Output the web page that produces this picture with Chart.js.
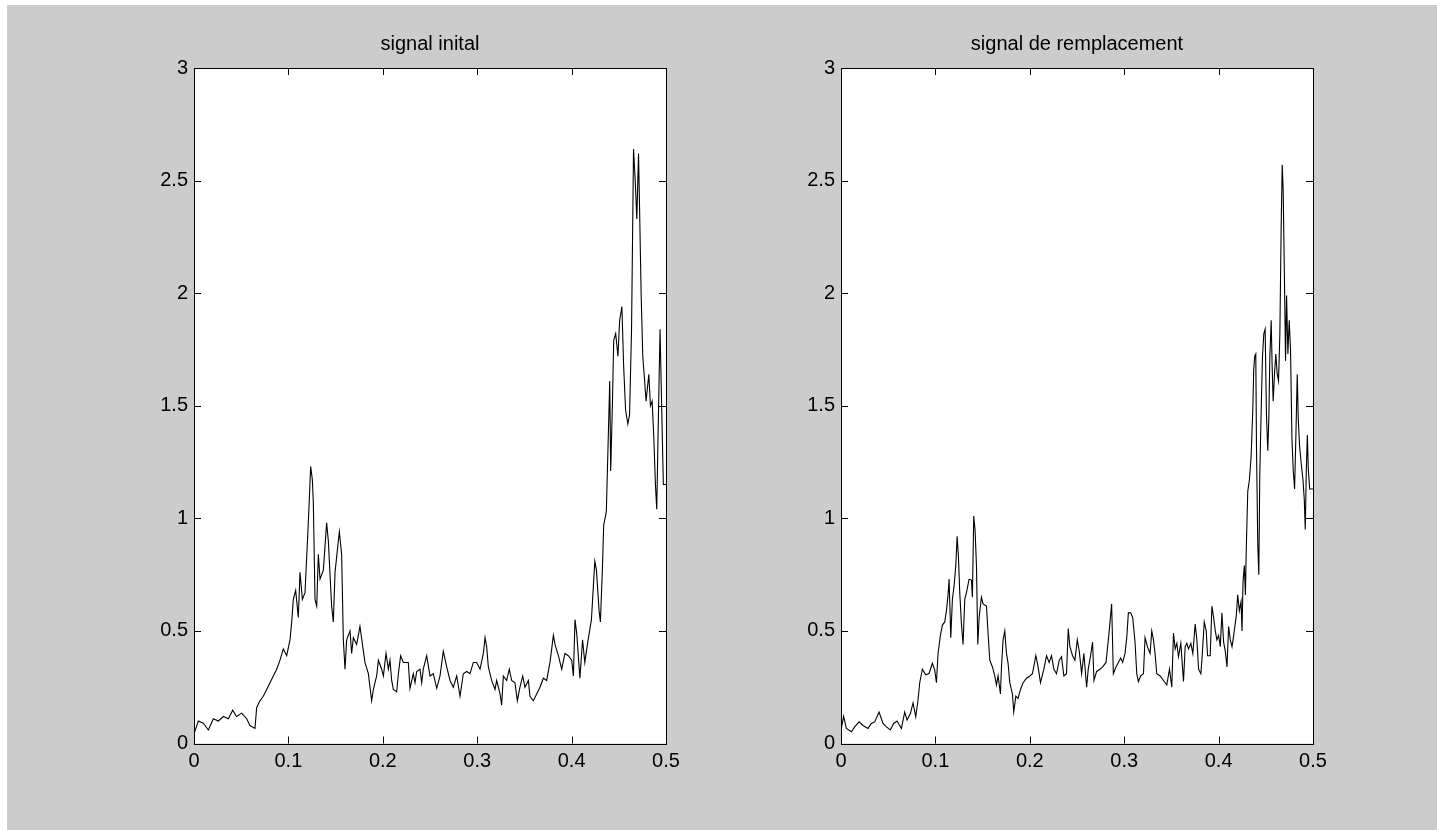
<!DOCTYPE html>
<html lang="fr">
<head>
  <meta charset="UTF-8" />
  <title>signal inital / signal de remplacement</title>
  <script src="https://cdn.jsdelivr.net/npm/chart.js"></script>
  <style>
    body { margin: 0; background: #fff; width: 1437px; height: 830px; overflow: hidden; position: relative; }
    #fond { position: absolute; left: 7px; top: 5px; right: 0; bottom: 0; background: #cccccc; }
    canvas { position: absolute; top: 0; }
    #c1 { left: 100px; }
    #c2 { left: 747px; }
  </style>
</head>
<body>
  <div id="fond"></div>
  <canvas id="c1" width="600" height="830"></canvas>
  <canvas id="c2" width="600" height="830"></canvas>

  <script>
    // --- données ---
    const xTicks = [0, 0.1, 0.2, 0.3, 0.4, 0.5];
    const yTicks = [0, 0.5, 1, 1.5, 2, 2.5, 3];

    // signal inital
    const xInit = [0, 0.0046, 0.0099, 0.0152, 0.0205, 0.0258, 0.0311, 0.0364, 0.041, 0.045, 0.0505, 0.0558, 0.0593, 0.0646,
      0.0664, 0.0699, 0.0734, 0.077, 0.0805, 0.084, 0.0876, 0.0911, 0.0946, 0.0982, 0.1017, 0.1035, 0.1052, 0.1077, 0.1105,
      0.1123, 0.1148, 0.1176, 0.1211, 0.1236, 0.1254, 0.1264, 0.1282, 0.13, 0.1317, 0.1335, 0.137, 0.1405, 0.1423, 0.1458,
      0.1476, 0.1494, 0.1529, 0.154, 0.1564, 0.1582, 0.16, 0.1617, 0.1653, 0.167, 0.1688, 0.1723, 0.1758, 0.1811, 0.1847,
      0.1882, 0.19, 0.1935, 0.1953, 0.1988, 0.2006, 0.2034, 0.2059, 0.2076, 0.2094, 0.2112, 0.2147, 0.2165, 0.2189, 0.2217,
      0.227, 0.2288, 0.2323, 0.2341, 0.2359, 0.2394, 0.2412, 0.2429, 0.2465, 0.25, 0.2535, 0.2571, 0.2606, 0.2641, 0.2677,
      0.2712, 0.2747, 0.2783, 0.2818, 0.2853, 0.2888, 0.2924, 0.2959, 0.2994, 0.303, 0.3065, 0.3083, 0.31, 0.3118, 0.3153,
      0.3189, 0.3206, 0.3242, 0.3259, 0.3277, 0.3312, 0.334, 0.3365, 0.34, 0.3425, 0.3453, 0.3482, 0.3506, 0.3542, 0.3559,
      0.3595, 0.363, 0.3665, 0.3701, 0.3736, 0.3771, 0.3807, 0.3824, 0.386, 0.3895, 0.393, 0.3965, 0.4001, 0.4019, 0.4036,
      0.4054, 0.4088, 0.4116, 0.414, 0.4175, 0.421, 0.4228, 0.4246, 0.4263, 0.4291, 0.4305, 0.4326, 0.434, 0.4368, 0.4386,
      0.4404, 0.4414, 0.4432, 0.4446, 0.4467, 0.4491, 0.4509, 0.4533, 0.4551, 0.4572, 0.4596, 0.4614, 0.4635, 0.4656,
      0.4674, 0.4691, 0.4709, 0.4719, 0.4737, 0.4754, 0.4772, 0.4789, 0.4818, 0.4835, 0.4853, 0.487, 0.4888, 0.4902,
      0.4919, 0.4937, 0.4954, 0.4972, 0.5];
    const yInit = [0.044, 0.10, 0.09, 0.06, 0.11, 0.10, 0.12, 0.11, 0.148, 0.12, 0.135, 0.11, 0.08, 0.067,
      0.16, 0.19, 0.21, 0.24, 0.27, 0.30, 0.33, 0.37, 0.42, 0.39, 0.46, 0.54, 0.64, 0.68, 0.56,
      0.76, 0.64, 0.67, 0.98, 1.23, 1.17, 1.07, 0.64, 0.61, 0.84, 0.73, 0.77, 0.98, 0.90, 0.61,
      0.54, 0.76, 0.90, 0.94, 0.84, 0.46, 0.33, 0.46, 0.50, 0.40, 0.47, 0.44, 0.52, 0.36, 0.31,
      0.19, 0.24, 0.30, 0.37, 0.33, 0.30, 0.40, 0.33, 0.37, 0.28, 0.24, 0.23, 0.31, 0.39, 0.36,
      0.36, 0.245, 0.31, 0.27, 0.32, 0.33, 0.27, 0.33, 0.39, 0.30, 0.31, 0.245, 0.30, 0.41, 0.34,
      0.28, 0.25, 0.30, 0.21, 0.31, 0.32, 0.31, 0.36, 0.36, 0.33, 0.40, 0.47, 0.43, 0.34, 0.28,
      0.24, 0.28, 0.22, 0.17, 0.30, 0.28, 0.33, 0.28, 0.27, 0.19, 0.25, 0.30, 0.25, 0.28, 0.21,
      0.19, 0.22, 0.25, 0.29, 0.28, 0.36, 0.48, 0.44, 0.39, 0.33, 0.40, 0.39, 0.37, 0.30, 0.55,
      0.49, 0.29, 0.46, 0.36, 0.46, 0.55, 0.68, 0.81, 0.77, 0.59, 0.54, 0.77, 0.97, 1.03, 1.32,
      1.61, 1.21, 1.50, 1.79, 1.82, 1.72, 1.88, 1.94, 1.68, 1.48, 1.42, 1.46, 1.84, 2.64,
      2.50, 2.33, 2.62, 2.40, 1.99, 1.72, 1.62, 1.52, 1.64, 1.50, 1.52, 1.37, 1.15, 1.04,
      1.44, 1.84, 1.50, 1.15, 1.15];

    // signal de remplacement
    const xRemp = [0, 0.0028, 0.0057, 0.011, 0.0145, 0.0191, 0.0233, 0.0286, 0.0322, 0.0357, 0.0403, 0.0445, 0.0481, 0.0523,
      0.0558, 0.0594, 0.064, 0.0675, 0.07, 0.0735, 0.0763, 0.0792, 0.0816, 0.0834, 0.0862, 0.0898, 0.0933, 0.0968, 0.0993,
      0.1011, 0.1028, 0.1053, 0.1074, 0.1099, 0.1117, 0.1134, 0.1145, 0.1163, 0.118, 0.1198, 0.1216, 0.123, 0.1244, 0.1258,
      0.1276, 0.1293, 0.1311, 0.1329, 0.1357, 0.1382, 0.1392, 0.1406, 0.142, 0.1435, 0.1449, 0.1463, 0.1488, 0.1505, 0.1541,
      0.1558, 0.1576, 0.1604, 0.1629, 0.1647, 0.1664, 0.1689, 0.17, 0.1717, 0.1735, 0.1753, 0.177, 0.1788, 0.1816, 0.183,
      0.1852, 0.1876, 0.1901, 0.1929, 0.1965, 0.2, 0.2028, 0.2064, 0.2088, 0.2113, 0.2149, 0.2177, 0.2205, 0.223, 0.2255,
      0.2283, 0.2312, 0.2336, 0.2361, 0.2389, 0.2407, 0.2425, 0.2453, 0.2478, 0.2503, 0.2524, 0.2549, 0.2573, 0.2602, 0.2619,
      0.2644, 0.2665, 0.268, 0.2708, 0.2743, 0.2772, 0.2807, 0.2832, 0.285, 0.2867, 0.2885, 0.2913, 0.2938, 0.2963, 0.2984,
      0.3009, 0.3027, 0.3044, 0.3069, 0.309, 0.3115, 0.3133, 0.315, 0.3175, 0.3204, 0.3221, 0.3246, 0.3274, 0.3292, 0.331,
      0.3327, 0.3345, 0.3381, 0.3416, 0.3451, 0.348, 0.3504, 0.3522, 0.354, 0.3558, 0.3575, 0.36, 0.3628, 0.3646, 0.3664,
      0.3681, 0.3706, 0.3727, 0.3752, 0.377, 0.3788, 0.3812, 0.3823, 0.3848, 0.3869, 0.3883, 0.3911, 0.3929, 0.3947, 0.3965,
      0.3982, 0.4, 0.4018, 0.4035, 0.4053, 0.4071, 0.4089, 0.4106, 0.4124, 0.4142, 0.416, 0.4188, 0.4202, 0.422, 0.4238,
      0.4248, 0.4259, 0.4273, 0.4284, 0.4294, 0.4309, 0.4326, 0.4344, 0.4362, 0.4372, 0.4383, 0.4394, 0.4401, 0.4415,
      0.4426, 0.4436, 0.445, 0.4465, 0.4479, 0.4493, 0.4507, 0.4521, 0.4532, 0.4543, 0.4557, 0.4567, 0.4578, 0.4592,
      0.4606, 0.4621, 0.4635, 0.4649, 0.4663, 0.4674, 0.4684, 0.4699, 0.4709, 0.472, 0.4734, 0.4748, 0.4762, 0.4777,
      0.4791, 0.4805, 0.4819, 0.4833, 0.4844, 0.4858, 0.4876, 0.4894, 0.4908, 0.4918, 0.4929, 0.494, 0.495, 0.4965,
      0.4986, 0.5];
    const yRemp = [0.06, 0.12, 0.067, 0.052, 0.074, 0.096, 0.08, 0.067, 0.089, 0.096, 0.14, 0.089, 0.074, 0.06,
      0.089, 0.10, 0.067, 0.14, 0.104, 0.133, 0.18, 0.119, 0.193, 0.27, 0.33, 0.305, 0.311, 0.356, 0.326,
      0.27, 0.40, 0.48, 0.526, 0.54, 0.59, 0.66, 0.73, 0.47, 0.64, 0.70, 0.79, 0.92, 0.83, 0.67,
      0.53, 0.44, 0.64, 0.67, 0.73, 0.726, 0.65, 1.01, 0.95, 0.79, 0.44, 0.56, 0.65, 0.62, 0.61,
      0.49, 0.37, 0.34, 0.30, 0.26, 0.30, 0.22, 0.34, 0.46, 0.50, 0.40, 0.356, 0.27, 0.22, 0.14,
      0.21, 0.20, 0.24, 0.27, 0.29, 0.30, 0.31, 0.39, 0.34, 0.27, 0.33, 0.39, 0.36, 0.39, 0.33,
      0.31, 0.37, 0.385, 0.30, 0.31, 0.51, 0.43, 0.39, 0.37, 0.46, 0.41, 0.31, 0.40, 0.25, 0.33,
      0.39, 0.45, 0.28, 0.32, 0.33, 0.34, 0.36, 0.46, 0.54, 0.62, 0.31, 0.34, 0.36, 0.38, 0.36,
      0.40, 0.47, 0.58, 0.58, 0.56, 0.45, 0.31, 0.275, 0.30, 0.31, 0.47, 0.43, 0.40, 0.50, 0.46,
      0.40, 0.31, 0.30, 0.28, 0.26, 0.33, 0.25, 0.49, 0.42, 0.445, 0.385, 0.445, 0.275, 0.43, 0.445,
      0.42, 0.445, 0.40, 0.53, 0.46, 0.33, 0.31, 0.37, 0.54, 0.50, 0.39, 0.39, 0.61, 0.56, 0.50,
      0.46, 0.48, 0.43, 0.58, 0.45, 0.41, 0.34, 0.52, 0.46, 0.43, 0.48, 0.57, 0.66, 0.59, 0.63,
      0.50, 0.72, 0.79, 0.66, 0.88, 1.12, 1.17, 1.27, 1.48, 1.66, 1.72, 1.73, 1.33, 0.88,
      0.75, 1.19, 1.46, 1.72, 1.82, 1.84, 1.46, 1.30, 1.44, 1.72, 1.88, 1.68, 1.52, 1.64,
      1.73, 1.64, 1.61, 1.82, 2.30, 2.57, 2.46, 2.02, 1.70, 1.99, 1.73, 1.88, 1.75, 1.35,
      1.21, 1.13, 1.37, 1.64, 1.44, 1.32, 1.24, 1.17, 1.08, 0.95, 1.21, 1.37, 1.22, 1.13,
      1.13, 1.13];

    const FONT = { family: '"Liberation Sans", Arial, sans-serif', size: 20 };

    // fond blanc + cadre noir + graduations intérieures (style matlab)
    const cadre = {
      id: 'cadre',
      beforeDraw(chart) {
        const a = chart.chartArea, ctx = chart.ctx;
        ctx.save();
        ctx.fillStyle = '#fff';
        ctx.fillRect(a.left, a.top, a.right - a.left, a.bottom - a.top);
        ctx.restore();
      },
      afterDraw(chart) {
        const a = chart.chartArea, ctx = chart.ctx, L = 7;
        const xs = chart.scales.x, ys = chart.scales.y;
        ctx.save();
        ctx.strokeStyle = '#000';
        ctx.lineWidth = 1;
        ctx.beginPath();
        xs.ticks.forEach(t => {
          const px = Math.round(xs.getPixelForValue(t.value)) + 0.5;
          ctx.moveTo(px, a.bottom); ctx.lineTo(px, a.bottom - L);
          ctx.moveTo(px, a.top); ctx.lineTo(px, a.top + L);
        });
        ys.ticks.forEach(t => {
          const py = Math.round(ys.getPixelForValue(t.value)) + 0.5;
          ctx.moveTo(a.left, py); ctx.lineTo(a.left + L, py);
          ctx.moveTo(a.right, py); ctx.lineTo(a.right - L, py);
        });
        ctx.stroke();
        ctx.strokeRect(Math.round(a.left) + 0.5, Math.round(a.top) + 0.5,
          Math.round(a.right - a.left), Math.round(a.bottom - a.top));
        ctx.restore();
      }
    };

    function makeChart(id, titre, xv, yv) {
      return new Chart(document.getElementById(id), {
        type: 'line',
        data: {
          datasets: [{
            data: xv.map((x, i) => ({ x: x, y: yv[i] })),
            borderColor: '#000',
            borderWidth: 1.1,
            pointRadius: 0,
            tension: 0,
            fill: false
          }]
        },
        options: {
          responsive: false,
          animation: false,
          devicePixelRatio: 1,
          layout: { padding: { top: 32, right: 34, bottom: 46.5, left: 0 } },
          plugins: {
            legend: { display: false },
            tooltip: { enabled: false },
            title: {
              display: true, text: titre, color: '#000', fullSize: false,
              font: { family: FONT.family, size: 20, weight: 'normal' },
              padding: { top: 0, bottom: 12 }
            }
          },
          scales: {
            x: {
              type: 'linear', min: 0, max: 0.5,
              afterBuildTicks: s => { s.ticks = xTicks.map(v => ({ value: v })); },
              afterFit: s => { s.height = 40; },
              grid: { display: false, drawTicks: false },
              border: { display: false },
              ticks: { color: '#000', font: FONT, padding: 6, maxRotation: 0, callback: v => String(v) }
            },
            y: {
              type: 'linear', min: 0, max: 3,
              afterBuildTicks: s => { s.ticks = yTicks.map(v => ({ value: v })); },
              afterFit: s => { s.width = 94; },
              grid: { display: false, drawTicks: false },
              border: { display: false },
              ticks: { color: '#000', font: FONT, padding: 6, callback: v => String(v) }
            }
          }
        },
        plugins: [cadre]
      });
    }

    makeChart('c1', 'signal inital', xInit, yInit);
    makeChart('c2', 'signal de remplacement', xRemp, yRemp);
  </script>
</body>
</html>
